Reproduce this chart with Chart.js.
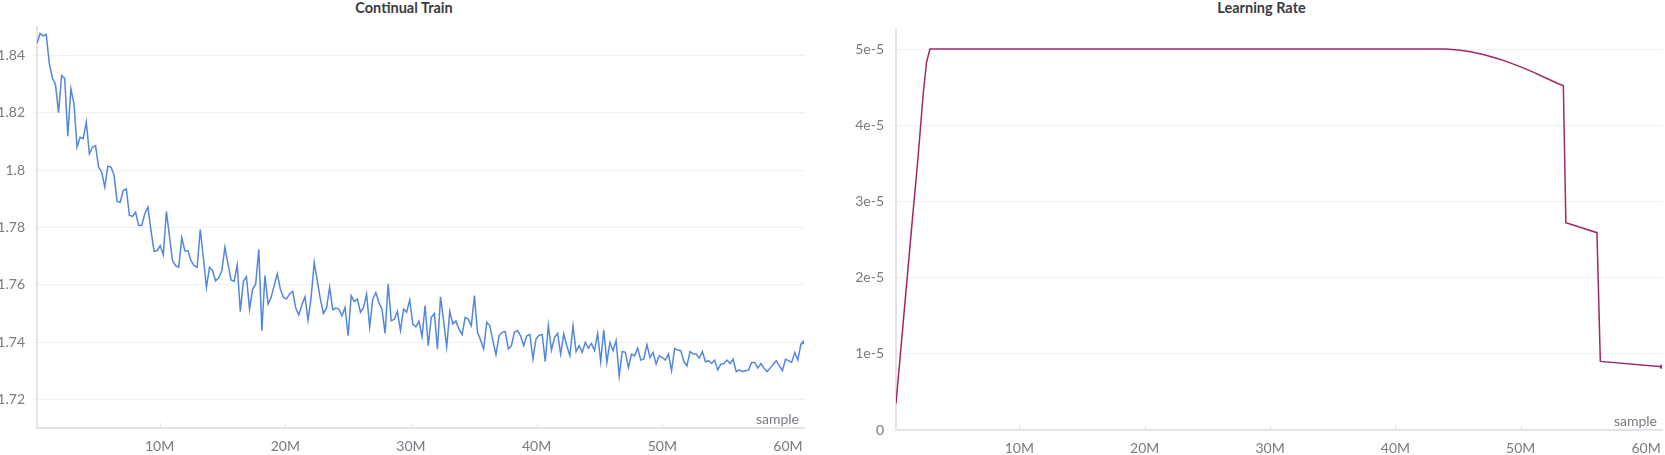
<!DOCTYPE html>
<html><head><meta charset="utf-8">
<script src="https://cdn.jsdelivr.net/npm/chart.js@4"></script>
<style>
html,body{margin:0;padding:0;background:#fff;width:1665px;height:455px;overflow:hidden;font-family:Lato,sans-serif}
.title{position:absolute;top:0;font-weight:700;font-size:14.5px;color:#3b3b3f;line-height:15px;text-align:center;font-family:Lato,sans-serif}
.box{position:absolute;top:0;height:455px}
</style></head><body>
<div class="title" style="left:0;width:808px">Continual Train</div>
<div class="title" style="left:858px;width:807px">Learning Rate</div>
<div class="box" style="left:0;width:810px"><canvas id="c1"></canvas></div>
<div class="box" style="left:848px;width:817px"><canvas id="c2"></canvas></div>
<script>
// ---- data ----
const lossTitle = "Continual Train";
const lrTitle = "Learning Rate";
const xAxisLabel = "sample";
const sampleStepM = 0.2451; // logging interval, millions of samples
const lossValues = [
1.8442,1.8477,1.8469,1.8474,1.8372,1.8322,1.8299,1.8201,1.8331,1.8320,
1.8119,1.8285,1.8232,1.8080,1.8115,1.8110,1.8168,1.8057,1.8080,1.8086,
1.8011,1.7993,1.7941,1.8014,1.8011,1.7984,1.7891,1.7888,1.7929,1.7935,
1.7842,1.7839,1.7853,1.7807,1.7807,1.7848,1.7871,
1.7790,1.7717,1.7719,1.7737,1.7705,1.7856,1.7770,1.7684,1.7667,1.7661,
1.7764,1.7719,1.7719,1.7684,1.7667,1.7661,1.7793,1.7696,1.7591,1.7661,
1.7649,1.7614,1.7624,1.7649,1.7731,1.7673,1.7617,1.7612,1.7670,1.7507,
1.7612,1.7628,1.7515,1.7585,1.7603,1.7724,1.7440,1.7632,1.7533,1.7556,
1.7597,1.7638,1.7585,
1.7556,1.7550,1.7568,1.7577,1.7519,1.7495,1.7530,1.7558,1.7477,1.7556,
1.7678,1.7614,1.7550,1.7500,1.7519,1.7591,1.7513,1.7519,1.7515,1.7492,
1.7521,1.7422,1.7562,1.7541,1.7550,1.7504,1.7521,1.7568,1.7453,1.7550,
1.7573,1.7538,1.7515,1.7430,1.7603,1.7474,1.7480,1.7507,1.7440,1.7515,
1.7504,1.7547,
1.7463,1.7453,1.7472,1.7419,1.7527,1.7387,1.7486,1.7500,1.7376,1.7558,
1.7474,1.7383,1.7507,1.7463,1.7474,1.7445,1.7426,1.7486,1.7480,1.7457,
1.7562,1.7434,1.7407,1.7376,1.7469,1.7457,1.7405,1.7356,1.7422,1.7434,
1.7437,1.7376,1.7387,1.7434,1.7440,1.7422,1.7387,1.7422,1.7426,1.7341,
1.7411,1.7424,1.7426,1.7332,1.7459,1.7372,1.7416,1.7430,1.7358,1.7428,
1.7387,1.7352,1.7457,1.7367,1.7387,1.7364,1.7399,1.7379,1.7395,1.7370,
1.7430,1.7332,1.7442,1.7329,1.7399,1.7370,1.7405,1.7282,1.7367,1.7364,
1.7311,1.7358,1.7352,1.7379,1.7337,1.7341,1.7391,1.7346,1.7364,
1.7323,1.7352,1.7346,1.7337,1.7358,1.7300,1.7378,1.7372,1.7370,1.7332,
1.7317,1.7367,1.7358,1.7358,1.7344,1.7367,1.7331,1.7335,1.7325,1.7337,
1.7303,1.7323,1.7325,1.7337,1.7325,1.7340,1.7297,1.7303,1.7297,1.7300,
1.7302,1.7329,1.7329,1.7309,1.7325,1.7309,1.7297,1.7309,1.7323,1.7335,
1.7317,1.7300,1.7340,1.7335,1.7329,1.7364,1.7337,1.7393,1.7399
];
const lrSamplesM = [0.16,1.41,1.90,2.34,2.60,2.87,43.7,44.0,45.0,46.0,47.0,48.0,49.0,50.0,51.0,52.0,53.0,53.4,53.6,56.08,56.35,61.27];
const lrValues = [0.35e-5,2.66e-5,3.54e-5,4.43e-5,4.83e-5,5.0e-5,5.0e-5,4.999e-5,4.989e-5,4.965e-5,4.929e-5,4.883e-5,4.828e-5,4.766e-5,4.697e-5,4.62e-5,4.545e-5,4.52e-5,2.72e-5,2.59e-5,0.90e-5,0.83e-5];
const xTickValues = [10,20,30,40,50,60];
const lossTickValues = [1.72,1.74,1.76,1.78,1.80,1.82,1.84];
const lrTickValues = [0,1e-5,2e-5,3e-5,4e-5,5e-5];

const lossPoints = lossValues.map((v,i)=>({x:(i+1)*sampleStepM, y:v}));
const lrPoints = lrValues.map((v,i)=>({x:lrSamplesM[i], y:v}));

const FONT = 'Lato';
const TICK_COLOR = '#7a7a82';
const GRID_COLOR = '#f0f0f2';
const AXIS_COLOR = '#e4e4e8';

const innerTicks = {
  id:'innerTicks',
  afterDraw(chart){
    const {ctx, chartArea, scales:{x}} = chart;
    ctx.save();
    ctx.strokeStyle = AXIS_COLOR; ctx.lineWidth = 1;
    x.ticks.forEach(t=>{
      const px = Math.round(x.getPixelForValue(t.value))+0.5;
      ctx.beginPath(); ctx.moveTo(px, chartArea.bottom-5); ctx.lineTo(px, chartArea.bottom); ctx.stroke();
    });
    ctx.font = '14px '+FONT; ctx.fillStyle = TICK_COLOR;
    ctx.textAlign='right'; ctx.textBaseline='middle';
    ctx.fillText(xAxisLabel, chartArea.right-5, chartArea.bottom-9);
    ctx.restore();
  }
};

function makeChart(id, points, color, xmin, xmax, ymin, ymax, yTicks, yFmt, yWidth, xHeight, padTop, padRight){
  const last = points.length-1;
  return new Chart(document.getElementById(id), {
    type:'line',
    data:{datasets:[{data:points, borderColor:color, backgroundColor:color, borderWidth:1.5,
      pointRadius:c=>c.dataIndex===last?2.2:0, pointBorderWidth:0, pointHoverRadius:0, tension:0, fill:false}]},
    options:{
      responsive:true, maintainAspectRatio:false, animation:false,
      layout:{padding:{top:padTop,right:padRight,left:0,bottom:0}},
      plugins:{legend:{display:false}, tooltip:{enabled:false}, title:{display:false}},
      scales:{
        x:{type:'linear', min:xmin, max:xmax,
          afterBuildTicks:s=>{s.ticks = xTickValues.map(v=>({value:v}));},
          afterFit:s=>{s.height = xHeight;},
          ticks:{callback:v=>v+'M', color:TICK_COLOR, font:{family:FONT,size:14}, maxRotation:0, autoSkip:false, padding:2},
          grid:{display:false, drawTicks:true, tickLength:8},
          border:{display:true, color:AXIS_COLOR, width:2}},
        y:{min:ymin, max:ymax,
          afterBuildTicks:s=>{s.ticks = yTicks.map(v=>({value:v}));},
          afterFit:s=>{s.width = yWidth;},
          ticks:{callback:yFmt, color:TICK_COLOR, font:{family:FONT,size:14}, padding:8},
          grid:{color:GRID_COLOR, lineWidth:1, drawTicks:true, tickLength:4, tickColor:GRID_COLOR},
          border:{display:true, color:AXIS_COLOR, width:2}}
      }
    },
    plugins:[innerTicks]
  });
}

makeChart('c1', lossPoints, '#5387dd', lossPoints[0].x, lossPoints[lossPoints.length-1].x, 1.71, 1.85,
  lossTickValues, v=>String(Math.round(v*100)/100), 37, 27, 27, 6);
makeChart('c2', lrPoints, '#a12864', lrSamplesM[0], lrSamplesM[lrSamplesM.length-1], 0, 5.25e-5,
  lrTickValues, v=>v===0?'0':Math.round(v*1e5)+'e-5', 48, 25, 30, 3);
</script>
</body></html>
